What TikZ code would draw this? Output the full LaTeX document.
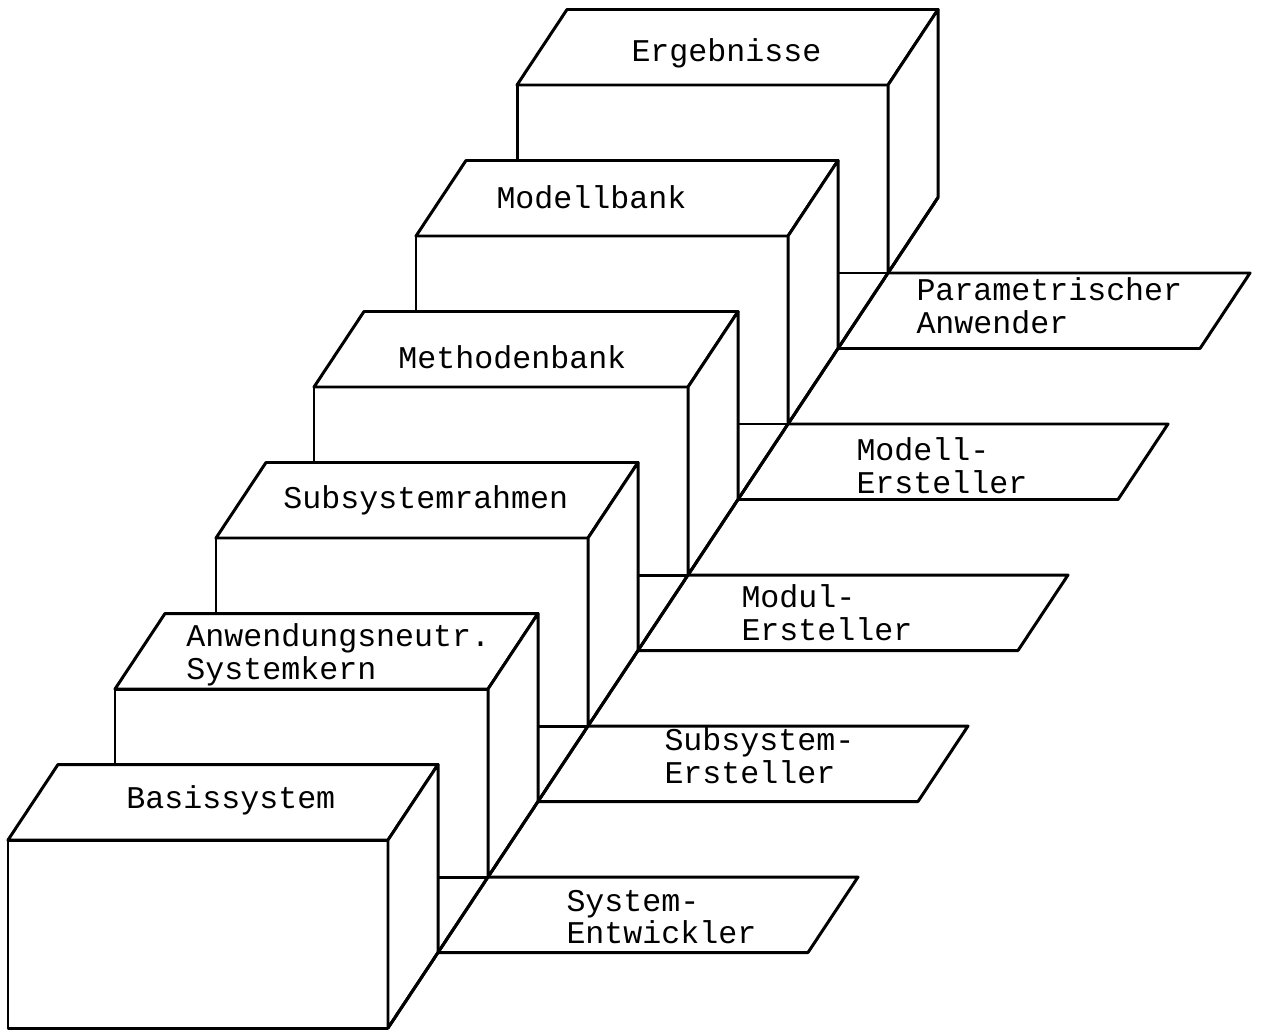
\documentclass[tikz,border=0pt]{standalone}
\usepackage{fontspec}
\setmainfont{Liberation Mono}
\begin{document}
\begin{tikzpicture}[x=0.02cm, y=-0.02cm, line width=1.7pt, line join=round,
    kiste/.style={draw, fill=white},
    schild/.style={draw, fill=white},
    beschr/.style={anchor=west, inner sep=0pt, align=left, font=\fontsize{18}{18.6}\selectfont}]
    \useasboundingbox (0,0) rectangle (1267,1034);
    % Ergebnisse
    \draw[kiste] (517,85) rectangle (888,273);
    \draw[kiste] (517,85) -- (567,9.5) -- (938,9.5) -- (888,85) -- cycle;
    \draw[kiste] (888,85) -- (938,9.5) -- (938,197.5) -- (888,273) -- cycle;
    \node[beschr] (ergebnisse) at (630,53) {Ergebnisse};
    % Modellbank
    \draw[kiste] (416,236) rectangle (788,424);
    \draw[kiste] (416,236) -- (466,160.5) -- (838,160.5) -- (788,236) -- cycle;
    \draw[kiste] (788,236) -- (838,160.5) -- (838,348.5) -- (788,424) -- cycle;
    \node[beschr] (modellbank) at (495,197) {Modellbank};
    % Methodenbank
    \draw[kiste] (314,387) rectangle (688,575);
    \draw[kiste] (314,387) -- (364,311.5) -- (738,311.5) -- (688,387) -- cycle;
    \draw[kiste] (688,387) -- (738,311.5) -- (738,499.5) -- (688,575) -- cycle;
    \node[beschr] (methodenbank) at (397,357) {Methodenbank};
    % Subsystemrahmen
    \draw[kiste] (216,538) rectangle (588,726);
    \draw[kiste] (216,538) -- (266,462.5) -- (638,462.5) -- (588,538) -- cycle;
    \draw[kiste] (588,538) -- (638,462.5) -- (638,650.5) -- (588,726) -- cycle;
    \node[beschr] (rahmen) at (282,500) {Subsystemrahmen};
    % Systemkern
    \draw[kiste] (115,689) rectangle (488,877);
    \draw[kiste] (115,689) -- (165,613.5) -- (538,613.5) -- (488,689) -- cycle;
    \draw[kiste] (488,689) -- (538,613.5) -- (538,801.5) -- (488,877) -- cycle;
    \node[beschr] (kern) at (185,655) {Anwendungsneutr.\\Systemkern};
    % Basissystem
    \draw[kiste] (8,840) rectangle (388,1028);
    \draw[kiste] (8,840) -- (58,764.5) -- (438,764.5) -- (388,840) -- cycle;
    \draw[kiste] (388,840) -- (438,764.5) -- (438,952.5) -- (388,1028) -- cycle;
    \node[beschr] (basis) at (125,800) {Basissystem};
    % Schilder am Boden
    \draw[schild] (438,952.5) -- (488,877) -- (858,877) -- (808,952.5) -- cycle;
    \draw[schild] (538,801.5) -- (588,726) -- (968,726) -- (918,801.5) -- cycle;
    \draw[schild] (638,650.5) -- (688,575) -- (1068,575) -- (1018,650.5) -- cycle;
    \draw[schild] (738,499.5) -- (788,424) -- (1168,424) -- (1118,499.5) -- cycle;
    \draw[schild] (838,348.5) -- (888,273) -- (1250,273) -- (1200,348.5) -- cycle;
    \coordinate (boden0) at (388,1028);
    \coordinate (boden1) at (938,197.5);
    \draw (boden0) -- (boden1);
    \node[beschr] (entwickler) at (565,917) {System-\\Entwickler};
    \node[beschr] (subersteller) at (663,756) {Subsystem-\\Ersteller};
    \node[beschr] (modulersteller) at (740,613) {Modul-\\Ersteller};
    \node[beschr] (modellersteller) at (855,466) {Modell-\\Ersteller};
    \node[beschr] (anwender) at (915,306) {Parametrischer\\Anwender};
\end{tikzpicture}
\end{document}
